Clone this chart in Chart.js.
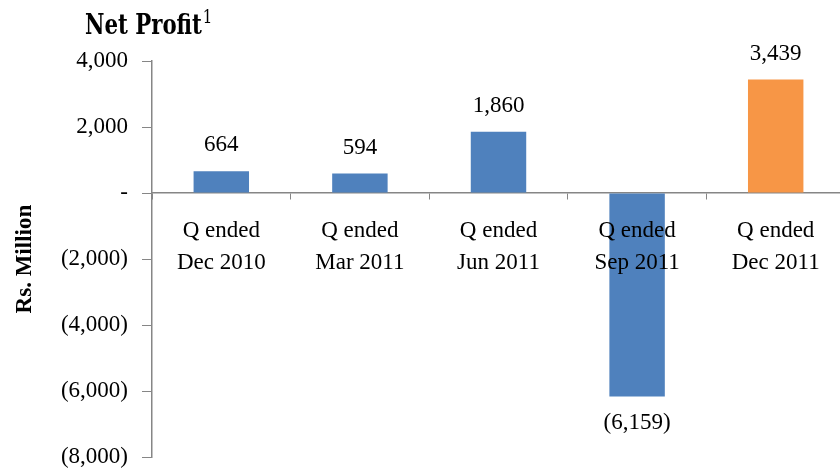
<!DOCTYPE html>
<html>
<head>
<meta charset="utf-8">
<script src="https://cdn.jsdelivr.net/npm/chart.js@4.4.1/dist/chart.umd.min.js"></script>
<style>
    html, body { margin: 0; padding: 0; background: #fff; overflow: hidden; }
    #wrap { position: relative; width: 846px; height: 473px; overflow: hidden; }
    #title {
        position: absolute; left: 85px; top: 6px;
        font-family: "DejaVu Serif", serif; font-stretch: condensed;
        font-weight: bold; font-size: 27px; color: #000; white-space: nowrap;
        display: inline-block; transform-origin: left top;
    }
    #title sup { font-size: 19px; position: relative; top: -1px; font-weight: normal; margin-left: 1px; }
</style>
</head>
<body>
<div id="wrap">
    <div id="title">Net Profit<sup>1</sup></div>
    <canvas id="chart" width="846" height="485"></canvas>
</div>
<script>
// data
const quarters = [
    ['Q ended', 'Dec 2010'],
    ['Q ended', 'Mar 2011'],
    ['Q ended', 'Jun 2011'],
    ['Q ended', 'Sep 2011'],
    ['Q ended', 'Dec 2011']
];
const netProfit = [664, 594, 1860, -6159, 3439];
const barColors = ['#4F81BD', '#4F81BD', '#4F81BD', '#4F81BD', '#F79646'];
const yTicks = [4000, 2000, 0, -2000, -4000, -6000, -8000];

const serif = '"Liberation Serif", "Times New Roman", serif';
const axisGray = '#868686';

// squeeze the slab title to the width it has in the original
const titleEl = document.getElementById('title');
titleEl.style.transform = 'scaleX(' + (127 / titleEl.offsetWidth) + ')';

function fmt(v) {
    if (v === 0) return '-';
    const s = Math.abs(v).toLocaleString('en-US');
    return v < 0 ? '(' + s + ')' : s;
}

const valueLabels = {
    id: 'valueLabels',
    afterDatasetsDraw(chart) {
        const ctx = chart.ctx;
        const meta = chart.getDatasetMeta(0);
        ctx.save();
        ctx.font = '23px ' + serif;
        ctx.fillStyle = '#000';
        ctx.textAlign = 'center';
        ctx.textBaseline = 'middle';
        meta.data.forEach((bar, i) => {
            const v = netProfit[i];
            const y = v >= 0 ? bar.y - 26 : bar.y + 27;
            ctx.fillText(fmt(v), bar.x, y);
        });
        ctx.restore();
    }
};

new Chart(document.getElementById('chart'), {
    type: 'bar',
    data: {
        labels: quarters,
        datasets: [{
            data: netProfit,
            backgroundColor: barColors,
            barPercentage: 0.4,
            categoryPercentage: 1
        }]
    },
    options: {
        responsive: false,
        animation: false,
        layout: { padding: { top: 61, bottom: 4, left: 0, right: 1 } },
        plugins: {
            legend: { display: false },
            tooltip: { enabled: false }
        },
        scales: {
            x: {
                position: { y: 0 },
                grid: {
                    display: true,
                    drawOnChartArea: false,
                    offset: true,
                    tickLength: 6,
                    color: axisGray
                },
                border: { color: axisGray, width: 1.5 },
                ticks: {
                    z: 1,
                    color: '#000',
                    font: { family: serif, size: 23, lineHeight: 1.4 },
                    padding: 16,
                    maxRotation: 0,
                    autoSkip: false
                }
            },
            y: {
                min: -8000,
                max: 4000,
                afterBuildTicks: s => { s.ticks = yTicks.map(v => ({ value: v })); },
                afterFit: s => { s.width = 152; },
                grid: {
                    display: true,
                    drawOnChartArea: false,
                    tickLength: 10,
                    color: axisGray
                },
                border: { color: axisGray, width: 1.5 },
                ticks: {
                    color: '#000',
                    font: { family: serif, size: 23 },
                    padding: 14,
                    callback: v => fmt(v)
                },
                title: {
                    display: true,
                    text: 'Rs. Million',
                    color: '#000',
                    font: { family: serif, size: 23, weight: 'bold' },
                    padding: { top: 11, bottom: 0 }
                }
            }
        }
    },
    plugins: [valueLabels]
});
</script>
</body>
</html>
